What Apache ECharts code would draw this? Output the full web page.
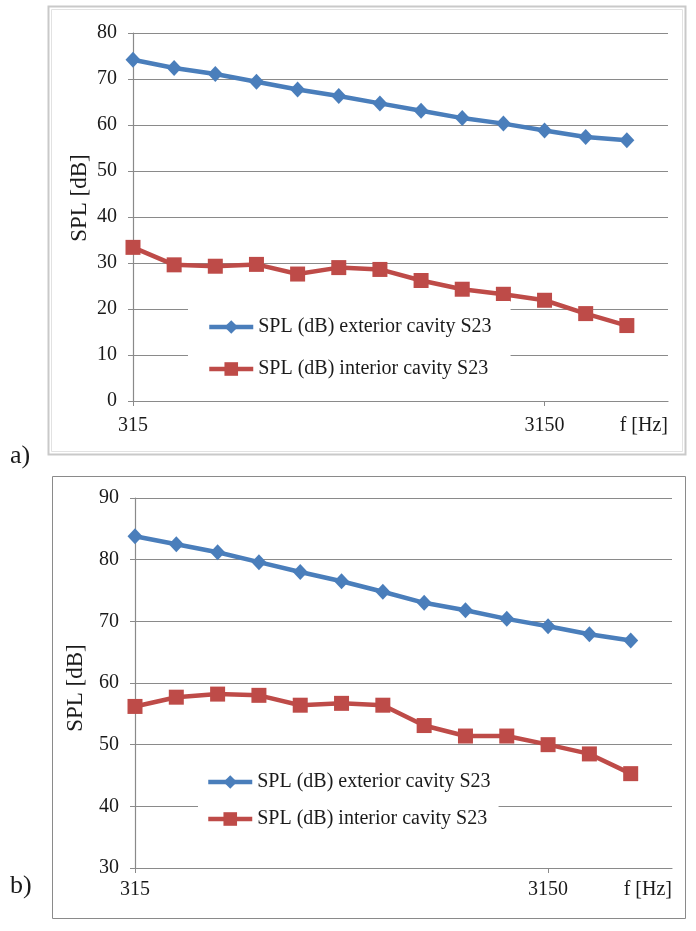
<!DOCTYPE html>
<html lang="en">

<head>
  <meta charset="UTF-8">
  <title>SPL exterior / interior cavity S23</title>
  <style>
    html,
    body {
      margin: 0;
      height: 100%;
      width: 100%;
      background: #fff;
    }
  </style>
</head>

<body>
  <div id="chart" style="width:696px;height:931px"></div>
  <script src="https://cdn.jsdelivr.net/npm/echarts@6/dist/echarts.min.js"></script>
  <script>
    // third-octave bands, plus one empty band so the axis runs a step past 5000
    const bands = ['315', '400', '500', '630', '800', '1000', '1250', '1600', '2000', '2500', '3150', '4000', '5000']
    const axisBands = bands.concat(['6300'])
    const shownLabels = ['315', '3150']

    const seriesNames = ['SPL (dB) exterior cavity S23', 'SPL (dB) interior cavity S23']

    // a)
    const extA = [74.2, 72.4, 71.1, 69.4, 67.7, 66.3, 64.7, 63.1, 61.5, 60.3, 58.8, 57.4, 56.7]
    const intA = [33.4, 29.6, 29.3, 29.7, 27.6, 29.0, 28.6, 26.2, 24.3, 23.2, 21.9, 19.0, 16.4]
    // b)
    const extB = [83.8, 82.5, 81.2, 79.6, 78.0, 76.5, 74.8, 73.0, 71.8, 70.4, 69.2, 67.9, 66.9]
    const intB = [56.2, 57.7, 58.2, 58.0, 56.4, 56.7, 56.4, 53.1, 51.4, 51.4, 50.0, 48.5, 45.3]

    const font = '"Liberation Serif", "Times New Roman", serif'
    const ink = '#1a1a1a'
    const gridGray = '#8a8a8a'
    const blue = '#4a7ebb'
    const red = '#be4b48'

    function xAxisFor(gridIndex, labelMargin) {
      const pick = function (i, v) { return shownLabels.indexOf(v) >= 0 }
      return {
        type: 'category',
        gridIndex: gridIndex,
        data: axisBands,
        boundaryGap: false,
        name: 'f [Hz]',
        nameLocation: 'end',
        nameGap: 0,
        nameTextStyle: {
          fontFamily: font, fontSize: 20, color: ink,
          align: 'right', verticalAlign: 'top', padding: [labelMargin, 0, 0, 0]
        },
        axisLine: { lineStyle: { color: gridGray, width: 1.2 } },
        axisTick: { show: true, interval: pick, length: 5, lineStyle: { color: gridGray } },
        axisLabel: { interval: pick, margin: labelMargin, fontFamily: font, fontSize: 20, color: ink },
        splitLine: { show: false }
      }
    }

    // namePad nudges the rotated title along the axis
    function yAxisFor(gridIndex, min, max, gap, namePad) {
      return {
        type: 'value',
        gridIndex: gridIndex,
        min: min,
        max: max,
        interval: 10,
        name: 'SPL [dB]',
        nameLocation: 'middle',
        nameGap: gap,
        nameMoveOverlap: false,
        nameTextStyle: { fontFamily: font, fontSize: 23, color: ink, padding: namePad },
        axisLine: { show: true, lineStyle: { color: gridGray, width: 1.2 } },
        axisTick: { show: true, length: 5, lineStyle: { color: gridGray } },
        axisLabel: { margin: 16, fontFamily: font, fontSize: 20, color: ink },
        splitLine: { show: true, lineStyle: { color: gridGray, width: 1.2 } }
      }
    }

    function lineSeries(name, idx, values, color, symbol, size) {
      return {
        name: name,
        type: 'line',
        xAxisIndex: idx,
        yAxisIndex: idx,
        data: values,
        symbol: symbol,
        symbolSize: size,
        showAllSymbol: true,
        lineStyle: { color: color, width: 4.5 },
        itemStyle: { color: color },
        z: 3
      }
    }

    function legendFor(left, top, pad, gap) {
      return {
        orient: 'vertical',
        left: left,
        top: top,
        data: seriesNames,
        backgroundColor: '#fff',
        padding: pad,
        itemGap: gap,
        itemWidth: 44,
        itemHeight: 17,
        lineStyle: { width: 4.5 },
        selectedMode: false,
        textStyle: { fontFamily: font, fontSize: 20, color: ink },
        z: 10
      }
    }

    const option = {
      animation: false,
      grid: [
        { left: 133, right: 28, top: 33, bottom: 530 },
        { left: 135, right: 24, top: 498, bottom: 63 }
      ],
      xAxis: [xAxisFor(0, 15), xAxisFor(1, 12)],
      yAxis: [
        yAxisFor(0, 0, 80, 42, [0, 0, 0, 38]),
        yAxisFor(1, 30, 90, 48, [0, 10, 0, 0])
      ],
      legend: [
        legendFor(188, 301, [16, 19, 16, 19], 22),
        legendFor(198, 760, [12, 8, 12, 8], 17)
      ],
      series: [
        lineSeries(seriesNames[0], 0, extA, blue, 'diamond', [15, 16]),
        lineSeries(seriesNames[1], 0, intA, red, 'rect', 15),
        lineSeries(seriesNames[0], 1, extB, blue, 'diamond', [15, 16]),
        lineSeries(seriesNames[1], 1, intB, red, 'rect', 15)
      ],
      graphic: [
        {
          type: 'rect', silent: true, z: -1,
          shape: { x: 48.5, y: 6.5, width: 637, height: 448 },
          style: { fill: 'none', stroke: '#c9c9c9', lineWidth: 2 }
        },
        {
          type: 'rect', silent: true, z: -1,
          shape: { x: 51.5, y: 9.5, width: 631, height: 442 },
          style: { fill: 'none', stroke: '#e2e2e2', lineWidth: 1 }
        },
        {
          type: 'rect', silent: true, z: -1,
          shape: { x: 52.5, y: 476.5, width: 633, height: 442 },
          style: { fill: 'none', stroke: '#8a8a8a', lineWidth: 1 }
        },
        {
          type: 'text', left: 10, top: 443,
          style: { text: 'a)', fontFamily: font, fontSize: 26, fill: ink }
        },
        {
          type: 'text', left: 10, top: 873,
          style: { text: 'b)', fontFamily: font, fontSize: 26, fill: ink }
        }
      ]
    }

    var myChart = echarts.init(document.getElementById('chart'))
    myChart.setOption(option)
  </script>

</body>

</html>
